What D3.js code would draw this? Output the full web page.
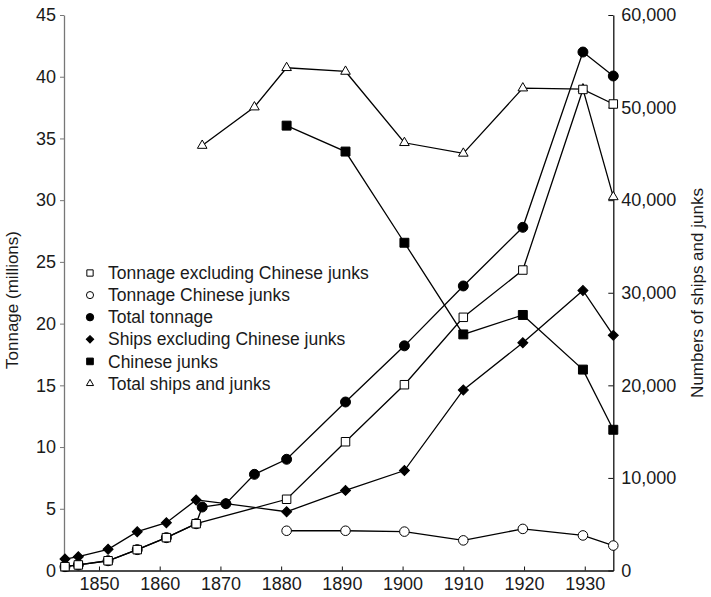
<!DOCTYPE html>
<html>
<head>
<meta charset="utf-8">
<script src="https://cdn.jsdelivr.net/npm/d3@7"></script>
<style>
  body { margin: 0; background: #fff; }
  svg { font-family: "Liberation Sans", Arial, sans-serif; }
</style>
</head>
<body>
<div id="chart_div"></div>
<script>
// data (years as placed on the axis)
const tonnageExclYears = [1844.4, 1846.6, 1851.5, 1856.3, 1861.1, 1866.0, 1880.9, 1890.6, 1900.3, 1910.0, 1919.8, 1929.7, 1934.7];
const tonnageExcl      = [0.31, 0.45, 0.79, 1.69, 2.66, 3.79, 5.77, 10.43, 15.05, 20.51, 24.34, 38.97, 37.79];

const junkTonnageYears = [1880.9, 1890.6, 1900.3, 1910.0, 1919.8, 1929.7, 1934.7];
const junkTonnage      = [3.22, 3.22, 3.15, 2.44, 3.37, 2.84, 2.02];

const totalTonnageYears = [1844.4, 1846.6, 1851.5, 1856.3, 1861.1, 1866.0, 1867.0, 1870.9, 1875.6, 1880.9, 1890.6, 1900.3, 1910.0, 1919.8, 1929.7, 1934.7];
const totalTonnage      = [0.31, 0.45, 0.79, 1.69, 2.66, 3.79, 5.14, 5.41, 7.79, 9.01, 13.65, 18.2, 23.05, 27.8, 42.0, 40.06];

const shipsExclYears = [1844.4, 1846.6, 1851.5, 1856.3, 1861.1, 1866.0, 1870.9, 1880.9, 1890.6, 1900.3, 1910.0, 1919.8, 1929.7, 1934.7];
const shipsExcl      = [1240, 1490, 2290, 4190, 5160, 7620, 7220, 6350, 8650, 10800, 19500, 24600, 30250, 25400];

const junkShipsYears = [1880.9, 1890.6, 1900.3, 1910.0, 1919.8, 1929.7, 1934.7];
const junkShips      = [48050, 45250, 35400, 25500, 27600, 21700, 15200];

const totalShipsYears = [1867.0, 1875.6, 1880.9, 1890.6, 1900.3, 1910.0, 1919.8, 1929.7, 1934.7];
const totalShips      = [45900, 50050, 54300, 53900, 46200, 45050, 52100, 52000, 40350];

const xTicks = [1850, 1860, 1870, 1880, 1890, 1900, 1910, 1920, 1930];
const leftTicks = [0, 5, 10, 15, 20, 25, 30, 35, 40, 45];
const rightTicks = [0, 10000, 20000, 30000, 40000, 50000, 60000];

// set the dimensions and margins of the graph
const margin = {top: 15, right: 97.7, bottom: 26.5, left: 64},
    width = 711 - margin.left - margin.right,
    height = 597 - margin.top - margin.bottom;

const svg = d3.select("#chart_div")
  .append("svg")
    .attr("width", 711)
    .attr("height", 597)
  .append("g")
    .attr("transform", `translate(${margin.left}, ${margin.top})`);

const x = d3.scaleLinear().domain([1844.24, 1934.7]).range([0, width]);
const yL = d3.scaleLinear().domain([0, 45]).range([height, 0]);
const yR = d3.scaleLinear().domain([0, 60000]).range([height, 0]);

// axes
const xAxis = svg.append("g")
  .attr("transform", `translate(0, ${height})`)
  .call(d3.axisBottom(x).tickValues(xTicks).tickFormat(d3.format("d")).tickSizeInner(-4).tickSizeOuter(0).tickPadding(7));

const leftAxis = svg.append("g")
  .call(d3.axisLeft(yL).tickValues(leftTicks).tickSizeInner(4).tickSizeOuter(0).tickPadding(4));

const rightAxis = svg.append("g")
  .attr("transform", `translate(${width}, 0)`)
  .call(d3.axisRight(yR).tickValues(rightTicks).tickFormat(d3.format(",")).tickSizeInner(-5).tickSizeOuter(0).tickPadding(8));

svg.selectAll(".tick text").style("font-size", "18px").style("fill", "#1a1a1a");
svg.selectAll(".domain").style("stroke", "#111").style("stroke-width", 1.3);
svg.selectAll(".tick line").style("stroke", "#111");
leftAxis.select(".domain").style("stroke", "#777");
leftAxis.selectAll(".tick line").style("stroke", "#777");

// axis titles
svg.append("text")
  .attr("transform", `translate(${-46}, ${285}) rotate(-90)`)
  .attr("text-anchor", "middle")
  .style("font-size", "17px").style("fill", "#1a1a1a")
  .text("Tonnage (millions)");

svg.append("text")
  .attr("transform", `translate(${width + 90}, ${278}) rotate(-90)`)
  .attr("text-anchor", "middle")
  .style("font-size", "17px").style("fill", "#1a1a1a")
  .text("Numbers of ships and junks");

// markers
const marker = {
  openSquare:   {type: d3.symbolSquare,   size: 72, fill: "#fff", rot: 0},
  openCircle:   {type: d3.symbolCircle,   size: 72, fill: "#fff", rot: 0},
  filledCircle: {type: d3.symbolCircle,   size: 78, fill: "#000", rot: 0},
  diamond:      {type: d3.symbolSquare,   size: 50, fill: "#000", rot: 45},
  filledSquare: {type: d3.symbolSquare,   size: 80, fill: "#000", rot: 0},
  triangle:     {type: d3.symbolTriangle, size: 40, fill: "#fff", rot: 0}
};

function drawSeries(years, values, yScale, m) {
  const pts = years.map((d, i) => [d, values[i]]);
  const line = d3.line().x(d => x(d[0])).y(d => yScale(d[1]));
  svg.append("path")
    .datum(pts)
    .attr("d", line)
    .style("fill", "none")
    .style("stroke", "#000")
    .style("stroke-width", 1.3);
  svg.append("g")
    .selectAll("path")
    .data(pts)
    .join("path")
      .attr("d", d3.symbol().type(m.type).size(m.size))
      .attr("transform", d => `translate(${x(d[0])}, ${yScale(d[1])}) rotate(${m.rot})`)
      .style("fill", m.fill)
      .style("stroke", "#000")
      .style("stroke-width", 1);
}

drawSeries(totalShipsYears, totalShips, yR, marker.triangle);
drawSeries(junkShipsYears, junkShips, yR, marker.filledSquare);
drawSeries(shipsExclYears, shipsExcl, yR, marker.diamond);
drawSeries(totalTonnageYears, totalTonnage, yL, marker.filledCircle);
drawSeries(junkTonnageYears, junkTonnage, yL, marker.openCircle);
drawSeries(tonnageExclYears, tonnageExcl, yL, marker.openSquare);

// legend
const legendItems = [
  ["Tonnage excluding Chinese junks", marker.openSquare],
  ["Tonnage Chinese junks", marker.openCircle],
  ["Total tonnage", marker.filledCircle],
  ["Ships excluding Chinese junks", marker.diamond],
  ["Chinese junks", marker.filledSquare],
  ["Total ships and junks", marker.triangle]
];

const legend = svg.append("g").attr("transform", "translate(26, 258)");
legendItems.forEach(function(item, i) {
  const row = legend.append("g").attr("transform", `translate(0, ${i * 22.1})`);
  row.append("path")
    .attr("d", d3.symbol().type(item[1].type).size(item[1].size * 0.55))
    .attr("transform", `rotate(${item[1].rot})`)
    .style("fill", item[1].fill)
    .style("stroke", "#000")
    .style("stroke-width", 1);
  row.append("text")
    .attr("x", 18)
    .attr("dy", "0.35em")
    .style("font-size", "17.5px").style("fill", "#1a1a1a")
    .text(item[0]);
});
</script>
</body>
</html>
